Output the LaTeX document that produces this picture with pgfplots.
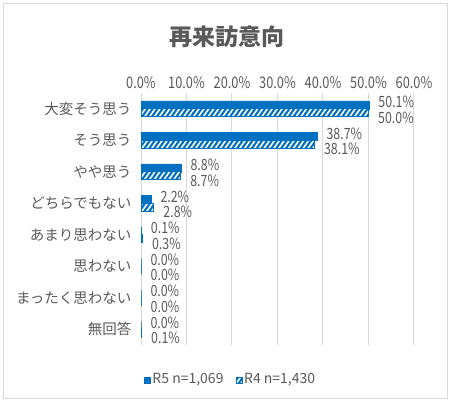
\documentclass[border=0pt]{standalone}
\usepackage{fontspec}
\setmainfont{Noto Sans CJK JP}
\newfontfamily\numfont[FakeStretch=0.8]{Noto Sans CJK JP}
\usepackage{pgfplots}
\pgfplotsset{compat=1.18}
\usetikzlibrary{patterns.meta}
\definecolor{bl}{HTML}{0070C0}
\definecolor{tx}{HTML}{595959}
\definecolor{gr}{HTML}{D9D9D9}
\tikzset{hatchpat/.style={pattern={Lines[angle=55,distance=4bp,line width=1.6bp]},pattern color=white}}
\begin{document}
\begin{tikzpicture}
\path[use as bounding box] (0,0) rectangle (449bp,-400bp);
\draw[gr,line width=1bp] (3bp,-3bp) rectangle (447bp,-398bp);
\node[text=tx,font=\fontsize{23bp}{26bp}\selectfont\bfseries] at (227bp,-37bp) {再来訪意向};
\begin{axis}[
  at={(141bp,-93bp)}, anchor=north west,
  scale only axis, width=273bp, height=252bp,
  xbar, bar width=8bp,
  /pgf/number format/assume math mode=true,
  xmin=0, xmax=60, ymin=-0.5, ymax=7.5, y dir=reverse,
  xtick={0,10,...,60}, xticklabel pos=upper,
  xticklabel={\pgfmathprintnumber[fixed,fixed zerofill,precision=1]{\tick}\%},
  xticklabel style={font=\numfont\fontsize{16bp}{18bp}\selectfont, text=tx, yshift=1bp},
  ytick={0,...,7},
  yticklabels={大変そう思う,そう思う,やや思う,どちらでもない,あまり思わない,思わない,まったく思わない,無回答},
  yticklabel style={font=\fontsize{14.5bp}{16bp}\selectfont, text=tx, xshift=-6bp},
  xmajorgrids, grid style={gr, line width=1bp},
  axis line style={draw=none},
  major tick length=0pt,
  clip=false,
  nodes near coords={\pgfmathprintnumber[fixed,fixed zerofill,precision=1]{\pgfplotspointmeta}\%},
  point meta=x,
  every node near coord/.append style={font=\numfont\fontsize{15.5bp}{17bp}\selectfont, text=tx, anchor=west, xshift=6bp, inner ysep=0pt, text height=11bp, text depth=0pt},
  legend style={at={(0.328,-0.135)}, anchor=center, draw=none, font=\fontsize{14bp}{16bp}\selectfont, text=tx, legend columns=2,
    /tikz/every even column/.append style={column sep=10bp}},
  legend image code/.code={\draw[#1,line width=0.6bp] (0bp,-4bp) rectangle (6bp,2bp);},
]
\addplot[draw=bl, fill=bl, bar shift=4bp, every node near coord/.append style={yshift=2.5bp}]
  coordinates {(50.1,0) (38.7,1) (8.8,2) (2.2,3) (0.1,4) (0.0,5) (0.0,6) (0.0,7)};
\addlegendentry{R5 n=1,069}
\addplot[draw=bl, fill=bl, line width=0.8bp, postaction={hatchpat}, bar shift=-4bp, every node near coord/.append style={yshift=-5bp}]
  coordinates {(50.0,0) (38.1,1) (8.7,2) (2.8,3) (0.3,4) (0.0,5) (0.0,6) (0.1,7)};
\addlegendentry{R4 n=1,430}
\end{axis}
\end{tikzpicture}
\end{document}
